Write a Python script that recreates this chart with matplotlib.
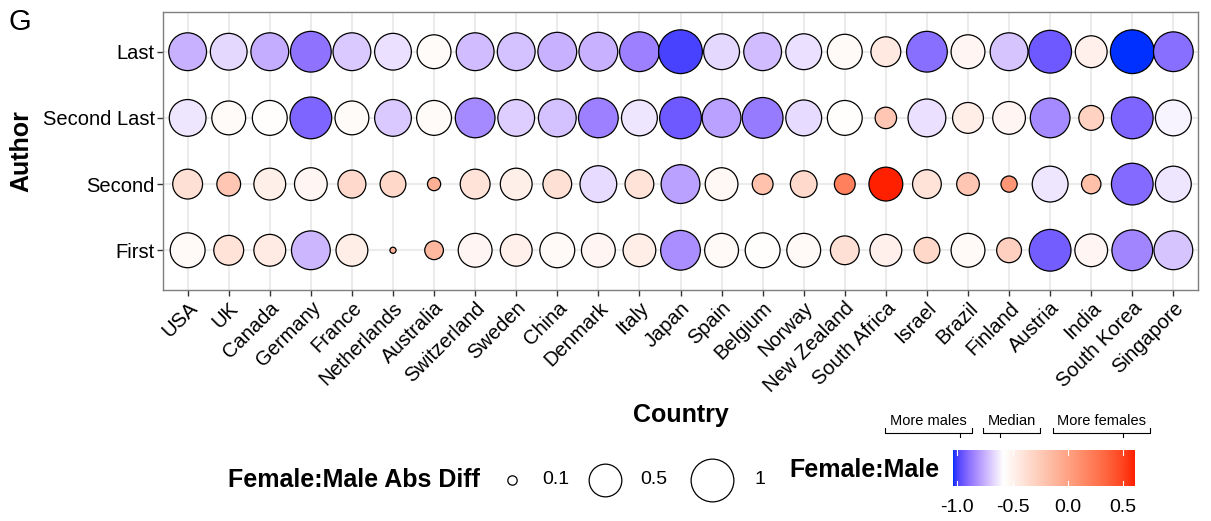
import numpy as np
import matplotlib
matplotlib.use("Agg")
import matplotlib.pyplot as plt
from matplotlib.colors import ListedColormap, TwoSlopeNorm, to_rgb

plt.rcParams['font.family'] = ['Liberation Sans', 'DejaVu Sans']

countries = ['USA', 'UK', 'Canada', 'Germany', 'France', 'Netherlands', 'Australia',
             'Switzerland', 'Sweden', 'China', 'Denmark', 'Italy', 'Japan', 'Spain',
             'Belgium', 'Norway', 'New Zealand', 'South Africa', 'Israel', 'Brazil',
             'Finland', 'Austria', 'India', 'South Korea', 'Singapore']
authors = ['First', 'Second', 'Second Last', 'Last']

# Female:Male (colour), one value per country
ratio_first = [-0.54, -0.40, -0.45, -0.74, -0.47, -0.10, -0.13, -0.52, -0.49, -0.54, -0.52, -0.47, -0.83,
               -0.54, -0.57, -0.54, -0.38, -0.49, -0.33, -0.54, -0.28, -0.94, -0.52, -0.85, -0.71]
ratio_second = [-0.38, -0.23, -0.48, -0.52, -0.34, -0.33, -0.08, -0.40, -0.48, -0.38, -0.66, -0.40, -0.79,
                -0.53, -0.20, -0.34, 0.20, 0.61, -0.40, -0.23, 0.07, -0.64, -0.18, -0.91, -0.64]
ratio_second_last = [-0.64, -0.55, -0.57, -0.92, -0.55, -0.70, -0.55, -0.84, -0.69, -0.72, -0.86, -0.64, -0.95,
                     -0.79, -0.87, -0.66, -0.57, -0.23, -0.65, -0.47, -0.52, -0.84, -0.29, -0.92, -0.61]
ratio_last = [-0.75, -0.67, -0.76, -0.89, -0.70, -0.65, -0.55, -0.73, -0.72, -0.75, -0.75, -0.86, -1.00,
              -0.67, -0.73, -0.65, -0.54, -0.44, -0.90, -0.52, -0.71, -0.95, -0.49, -1.04, -0.90]

# Female:Male Abs Diff (size)
absdiff_first = [0.58, 0.41, 0.47, 0.76, 0.47, 0.08, 0.19, 0.54, 0.47, 0.58, 0.54, 0.50, 0.81,
                 0.54, 0.58, 0.54, 0.38, 0.47, 0.31, 0.54, 0.29, 0.93, 0.50, 0.87, 0.76]
absdiff_second = [0.41, 0.27, 0.47, 0.50, 0.36, 0.31, 0.13, 0.41, 0.47, 0.38, 0.66, 0.38, 0.76,
                  0.50, 0.22, 0.33, 0.22, 0.54, 0.38, 0.25, 0.16, 0.62, 0.20, 0.93, 0.62]
absdiff_second_last = [0.66, 0.54, 0.58, 0.93, 0.54, 0.66, 0.58, 0.81, 0.66, 0.71, 0.81, 0.62, 0.93,
                       0.76, 0.87, 0.62, 0.58, 0.23, 0.71, 0.44, 0.50, 0.81, 0.29, 0.93, 0.62]
absdiff_last = [0.71, 0.66, 0.71, 0.87, 0.71, 0.66, 0.54, 0.71, 0.71, 0.76, 0.76, 0.81, 1.07,
                0.62, 0.71, 0.62, 0.58, 0.41, 0.87, 0.54, 0.71, 1.00, 0.47, 1.07, 0.81]

size_breaks = [0.1, 0.5, 1]
cbar_ticks = [-1.0, -0.5, 0.0, 0.5]
cbar_labels = ['-1.0', '-0.5', '0.0', '0.5']
median_ratio = -0.585

ratios = [ratio_first, ratio_second, ratio_second_last, ratio_last]
absdiffs = [absdiff_first, absdiff_second, absdiff_second_last, absdiff_last]

M = np.array([[0.4124, 0.3576, 0.1805], [0.2126, 0.7152, 0.0722], [0.0193, 0.1192, 0.9505]])
WP = np.array([0.95047, 1.0, 1.08883])


# blue - white - red gradient interpolated in Lab (like ggplot's gradient2)
def to_lab(rgb):
    rgb = np.asarray(rgb, float)
    c = np.where(rgb <= 0.04045, rgb / 12.92, ((rgb + 0.055) / 1.055) ** 2.4)
    xyz = M @ c / WP
    f = np.where(xyz > 0.008856, np.cbrt(xyz), 7.787 * xyz + 16 / 116)
    return np.array([116 * f[1] - 16, 500 * (f[0] - f[1]), 200 * (f[1] - f[2])])


def from_lab(lab):
    L, a, b = lab
    fy = (L + 16) / 116
    f = np.array([fy + a / 500, fy, fy - b / 200])
    xyz = np.where(f ** 3 > 0.008856, f ** 3, (f - 16 / 116) / 7.787) * WP
    c = np.clip(np.linalg.inv(M) @ xyz, 0, 1)
    return np.where(c <= 0.0031308, 12.92 * c, 1.055 * c ** (1 / 2.4) - 0.055).clip(0, 1)


blue, white, red = to_lab(to_rgb('#0030FF')), to_lab([1, 1, 1]), to_lab(to_rgb('#FF2000'))
cols = [from_lab(blue + (white - blue) * t) for t in np.linspace(0, 1, 128)]
cols += [from_lab(white + (red - white) * t) for t in np.linspace(0, 1, 128)]
cmap = ListedColormap(cols)

allv = np.concatenate(ratios)
norm = TwoSlopeNorm(vcenter=median_ratio, vmin=allv.min(), vmax=allv.max())


def marker_area(v):
    d_px = 44 + 14.5 * np.log(np.asarray(v, float))
    return (d_px * 0.72 - 0.9) ** 2


fig = plt.figure(figsize=(12.11, 5.21), dpi=100)
ax = fig.add_axes([163 / 1211, 1 - 290 / 521, 1035 / 1211, 278 / 521])

x = np.arange(1, len(countries) + 1)
for i, (r, a) in enumerate(zip(ratios, absdiffs)):
    ax.scatter(x, np.full(len(x), i + 1), s=marker_area(a), c=r, cmap=cmap, norm=norm,
               edgecolors='black', linewidths=0.9, zorder=3)

ax.set_xlim(0.4, len(countries) + 0.6)
ax.set_ylim(0.4, 4.6)
ax.set_xticks(x)
ax.set_xticklabels(countries, rotation=45, ha='right', rotation_mode='anchor', fontsize=14.5)
ax.set_yticks(range(1, 5))
ax.set_yticklabels(authors, fontsize=14.5)
ax.tick_params(length=4, width=1, color='#333333', labelcolor='black', pad=2)
ax.grid(True, color='#EBEBEB', linewidth=1.5, zorder=0)
ax.set_axisbelow(True)
for sp in ax.spines.values():
    sp.set_color('#7F7F7F')
    sp.set_linewidth(1.0)

ax.set_xlabel('Country', fontsize=18, fontweight='bold')
ax.xaxis.set_label_coords(0.5, (290 - 403) / 278)
ax.set_ylabel('Author', fontsize=18, fontweight='bold')
ax.yaxis.set_label_coords((33 - 163) / 1035, 0.5)

# overlay in pixel coordinates for legends and annotations
ov = fig.add_axes([0, 0, 1, 1], zorder=-1)
ov.set_xlim(0, 1211)
ov.set_ylim(521, 0)
ov.axis('off')

ov.text(9, 22, 'G', fontsize=21, va='center', ha='left')

# size legend
ov.text(228, 480, 'Female:Male Abs Diff', fontsize=18, fontweight='bold', va='center', ha='left')
leg_x = [512, 605, 712]
lab_x = [542, 640, 755]
for b, cx, lx in zip(size_breaks, leg_x, lab_x):
    ov.scatter([cx], [480], s=marker_area(b), facecolors='white', edgecolors='black', linewidths=0.9)
    ov.text(lx, 480, str(b), fontsize=14, va='center', ha='left')

# colour legend (linear value axis)
ov.text(789, 470, 'Female:Male', fontsize=18, fontweight='bold', va='center', ha='left')
cax = fig.add_axes([953 / 1211, 1 - 486 / 521, 182 / 1211, 36 / 521])
grad = np.linspace(norm.vmin, norm.vmax, 300)
cax.imshow(cmap(norm(grad))[None, :, :], extent=[norm.vmin, norm.vmax, 0, 1], aspect='auto')
cax.set_xlim(norm.vmin, norm.vmax)
cax.set_ylim(0, 1)
cax.set_yticks([])
cax.set_xticks(cbar_ticks)
cax.set_xticklabels(cbar_labels)
cax.tick_params(length=0, labelsize=14, pad=9)
for sp in cax.spines.values():
    sp.set_visible(False)
for t in cbar_ticks:
    cax.plot([t, t], [0, 0.15], color='white', lw=0.8)
    cax.plot([t, t], [0.85, 1], color='white', lw=0.8)

# brackets above the colour bar
brackets = [('More males', 885, 972, 960), ('Median', 983, 1040, 1000), ('More females', 1053, 1150, 1123)]
for label, x0, x1, xm in brackets:
    ov.plot([x0, x0, x1, x1], [428, 433, 433, 428], color='black', lw=0.8)
    ov.plot([xm, xm], [433, 437], color='black', lw=0.8)
    ov.text((x0 + x1) / 2, 421, label, fontsize=10.5, ha='center', va='center')

fig.savefig('out.png', dpi=100)
